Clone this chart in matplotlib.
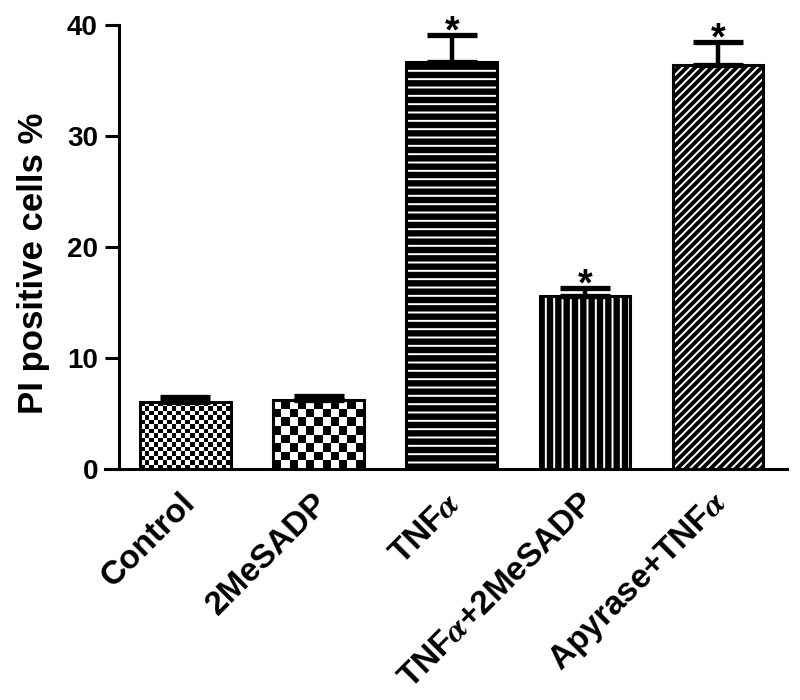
import numpy as np
import matplotlib.pyplot as plt
from matplotlib.transforms import ScaledTranslation

plt.rcParams['font.family'] = ['Liberation Sans', 'DejaVu Sans']
plt.rcParams['font.weight'] = 'bold'
plt.rcParams['mathtext.fontset'] = 'stix'
plt.rcParams['hatch.linewidth'] = 1.4

# data
groups = ['Control', '2MeSADP', 'TNF$\\alpha$', 'TNF$\\alpha$+2MeSADP', 'Apyrase+TNF$\\alpha$']
means = [6.0, 6.2, 36.7, 15.6, 36.4]
sem = [0.5, 0.4, 2.4, 0.7, 2.1]
signif = [False, False, True, True, True]

# fill style per bar: checkerboard square size (px) or white hatch on black
fills = [('checker', 4.5), ('checker', 8.2), ('hatch', '--'), ('hatch', '||'), ('hatch', '////')]

fig = plt.figure(figsize=(8, 7), dpi=100)
ax = fig.add_axes([0.131, 0.33, 0.853, 0.634])
ax.set_xlim(-0.605, 4.52)
ax.set_ylim(0, 40)

x = np.arange(len(groups))
width = 0.68

for i, (m, (kind, spec)) in enumerate(zip(means, fills)):
    if kind == 'hatch':
        ax.bar(x[i], m, width, color='black', edgecolor='white', hatch=spec,
               linewidth=0, zorder=2)
    else:
        bar = ax.bar(x[i], m, width, color='white', linewidth=0, zorder=2)[0]
        # checkerboard sized in pixels, clipped to the bar
        p0 = ax.transData.transform((x[i] - width / 2, 0))
        p1 = ax.transData.transform((x[i] + width / 2, m))
        ncol = int(round((p1[0] - p0[0]) / spec))
        nrow = int(round((p1[1] - p0[1]) / spec))
        board = (np.add.outer(np.arange(nrow), np.arange(ncol)) % 2).astype(float)
        im = ax.imshow(board, cmap='gray', interpolation='nearest', aspect='auto',
                       extent=(x[i] - width / 2, x[i] + width / 2, 0, m),
                       origin='lower', zorder=3)
        im.set_clip_path(bar)
    ax.bar(x[i], m, width, fill=False, edgecolor='black', linewidth=2.2, zorder=4)

ax.errorbar(x, means, yerr=[np.zeros(len(sem)), sem], fmt='none', ecolor='black',
            elinewidth=3.2, capsize=18, capthick=3.8, zorder=5)

for i in range(len(groups)):
    if signif[i]:
        ax.text(x[i], means[i] + sem[i] - 0.7, '*', ha='center', va='baseline',
                fontsize=27, fontweight='bold')

ax.spines['top'].set_visible(False)
ax.spines['right'].set_visible(False)
ax.spines['left'].set_position(('data', -0.5))
ax.spines['left'].set_bounds(0, 40)
ax.spines['left'].set_linewidth(2.2)
ax.spines['bottom'].set_linewidth(2.2)

ax.set_yticks([0, 10, 20, 30, 40])
ax.tick_params(axis='y', direction='out', length=10, width=2.2, labelsize=20, pad=5)
ax.tick_params(axis='x', length=0, pad=14)
ax.set_xticks(x)
ax.set_xticklabels(groups, rotation=45, ha='right', va='center', rotation_mode='anchor',
                   fontsize=24, fontweight='bold')
shift = ScaledTranslation(0.05, -0.10, fig.dpi_scale_trans)
for lbl in ax.get_xticklabels():
    lbl.set_transform(lbl.get_transform() + shift)

ax.set_ylabel('PI positive cells %', fontsize=25, fontweight='bold')
ax.yaxis.set_label_coords(-0.081, 0.464)

fig.savefig('out.png', dpi=100)
